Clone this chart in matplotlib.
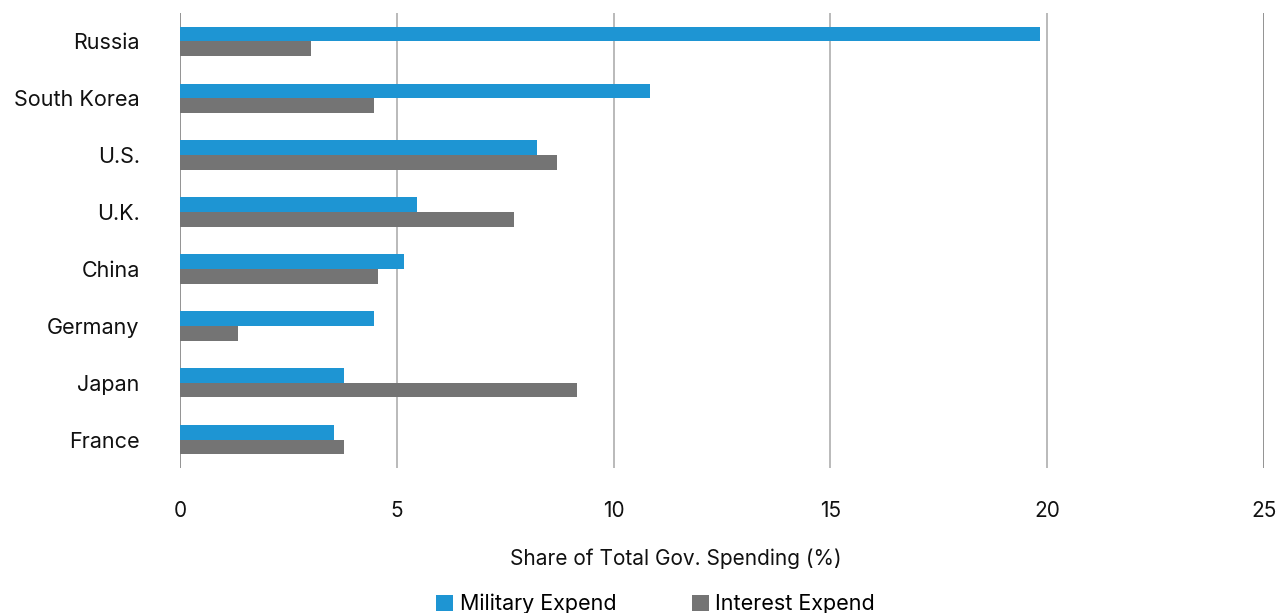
import matplotlib
matplotlib.use("Agg")
import matplotlib.pyplot as plt
import numpy as np

categories = ["Russia", "South Korea", "U.S.", "U.K.", "China", "Germany", "Japan", "France"]
military = [19.83, 10.84, 8.23, 5.47, 5.17, 4.47, 3.78, 3.55]
interest = [3.02, 4.47, 8.69, 7.70, 4.57, 1.34, 9.16, 3.78]
xticks = [0, 5, 10, 15, 20, 25]

blue = "#1e95d3"
gray = "#747474"

plt.rcParams['font.family'] = ['Inter', 'DejaVu Sans']

fig = plt.figure(figsize=(12.77, 6.13), dpi=100)
ax = fig.add_axes([180/1277, 1-468/613, (1264-180)/1277, (468-13)/613])

y = np.arange(len(categories))
h = 0.26
ax.barh(y - h/2, military, height=h, color=blue, label="Military Expend", zorder=3)
ax.barh(y + h/2, interest, height=h, color=gray, label="Interest Expend", zorder=3)

ax.set_xlim(0, 25)
ax.set_ylim(len(categories) - 0.5, -0.5)
ax.set_xticks(xticks)
ax.set_xticklabels([str(t) for t in xticks])
ax.set_yticks(y)
ax.set_yticklabels(categories)
ax.tick_params(axis='x', length=0, pad=24, labelsize=15, colors="#111111")
ax.tick_params(axis='y', length=0, pad=29, labelsize=15.5, colors="#111111")

for t in xticks:
    col = "#8a8a8a" if t in (0, 25) else "#b4b4b4"
    ax.axvline(t, color=col, lw=1.3, zorder=1)

for s in ax.spines.values():
    s.set_visible(False)

ax.set_xlabel("Share of Total Gov. Spending (%)", fontsize=15, color="#111111")
ax.xaxis.set_label_coords((675.5-180)/1084, -(559-468)/455, transform=ax.transAxes)
ax.xaxis.label.set_va("center")

fig.legend(loc="center", bbox_to_anchor=(655.5/1277, 1-604/613), ncol=2, frameon=False,
           fontsize=15.5, handlelength=0.8, handleheight=0.8, handletextpad=0.3,
           columnspacing=3.5)

fig.savefig("out.png", dpi=100)
